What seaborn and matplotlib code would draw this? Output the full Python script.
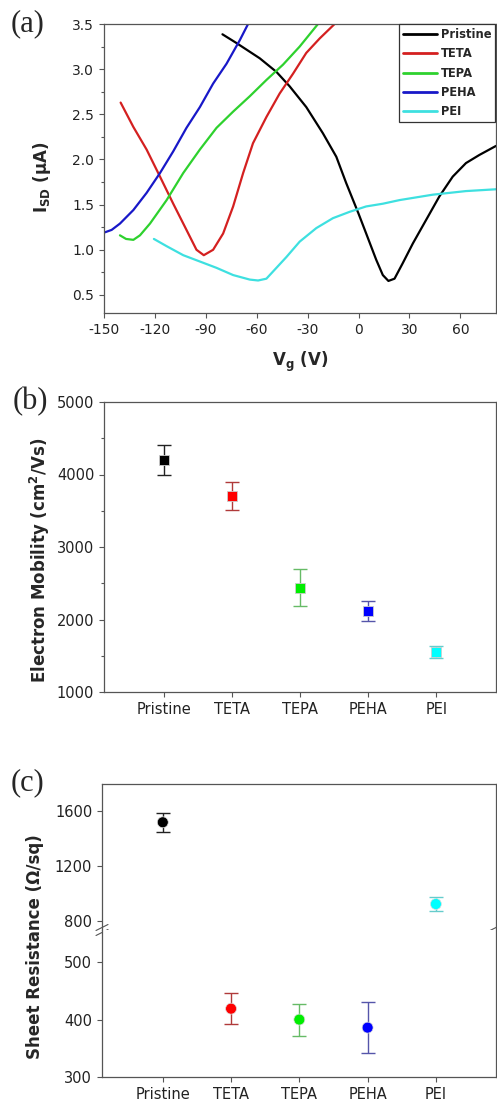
import numpy as np
import pandas as pd
import matplotlib
matplotlib.use("Agg")
import matplotlib.pyplot as plt
from matplotlib.ticker import MultipleLocator
import seaborn as sns

# ---------------- data ----------------
# (a) transfer curves  I_SD (uA) vs V_g (V)
pristine_vg = [-80.2, -72, -58.2, -48.4, -40.6, -30.8, -21, -13.1, -7.3, 0, 4.5, 10.4, 14.3, 17.6,
               21.2, 26, 32, 39.8, 47.6, 55.5, 63.3, 71.2, 81]
pristine_isd = [3.386, 3.29, 3.12, 2.97, 2.81, 2.58, 2.29, 2.03, 1.74, 1.40, 1.18, 0.89, 0.72, 0.655,
                0.68, 0.85, 1.07, 1.33, 1.59, 1.81, 1.96, 2.05, 2.15]
teta_vg = [-140.2, -132.7, -124.9, -117, -109.2, -101.4, -95.5, -91.2, -85.7, -79.8, -73.9, -68,
           -62.2, -54.3, -46.5, -38.6, -30.8, -22.9, -14.1]
teta_isd = [2.63, 2.36, 2.11, 1.81, 1.51, 1.22, 1.0, 0.94, 1.0, 1.18, 1.48, 1.85, 2.18, 2.47, 2.73,
            2.95, 3.18, 3.34, 3.5]
tepa_vg = [-140.6, -137, -132.7, -128.8, -122.9, -113.1, -103.3, -93.5, -83.7, -73.9, -64.1, -54.3,
           -44.5, -34.7, -23.9]
tepa_isd = [1.16, 1.12, 1.11, 1.16, 1.29, 1.55, 1.85, 2.11, 2.35, 2.53, 2.70, 2.88, 3.05, 3.25, 3.5]
peha_vg = [-150, -145.5, -140.6, -132.7, -124.9, -117, -109.2, -101.4, -93.5, -85.7, -77.8, -70, -65.1]
peha_isd = [1.19, 1.22, 1.29, 1.44, 1.63, 1.85, 2.09, 2.35, 2.58, 2.84, 3.06, 3.32, 3.5]
pei_vg = [-120.6, -113.1, -103.3, -93.5, -83.7, -73.9, -64.1, -59.2, -54.3, -48.4, -42.5, -34.7,
          -24.9, -15.1, -5.3, 4.5, 14.3, 24.1, 33.9, 43.7, 53.5, 63.3, 81]
pei_isd = [1.12, 1.04, 0.94, 0.87, 0.80, 0.72, 0.67, 0.66, 0.68, 0.80, 0.92, 1.09, 1.24, 1.35, 1.42,
           1.48, 1.51, 1.55, 1.58, 1.61, 1.63, 1.65, 1.67]

# (b), (c)
categories = ["Pristine", "TETA", "TEPA", "PEHA", "PEI"]
mobility = [4200, 3700, 2440, 2120, 1550]
mobility_err = [210, 195, 253, 135, 87]
resistance = [1520, 419, 400, 386, 922]
resistance_err = [68, 27, 28, 44, 50]

# ---------------- style ----------------
sns.set_style("ticks")
plt.rcParams["font.family"] = ["DejaVu Sans"]
plt.rcParams["axes.unicode_minus"] = False
plt.rcParams["mathtext.fontset"] = "custom"
plt.rcParams["mathtext.rm"] = "DejaVu Sans:bold"
plt.rcParams["mathtext.it"] = "DejaVu Sans:bold"
plt.rcParams["mathtext.bf"] = "DejaVu Sans:bold"

line_colors = ["#000000", "#d42020", "#2ed12e", "#1818c8", "#3ee0e0"]
marker_colors = ["#000000", "#ff0000", "#00ee00", "#0000ff", "#00ffff"]
err_colors = ["#222222", "#b03a3a", "#66bb66", "#5555aa", "#66cccc"]
spine_c = "#555555"
tick_c = "#222222"

W, H = 497, 1102
fig = plt.figure(figsize=(W / 100, H / 100), dpi=100)


def px_axes(left, top, right, bottom):
    return fig.add_axes([left / W, 1 - bottom / H, (right - left) / W, (bottom - top) / H])


def style_axes(ax, fs):
    for s in ax.spines.values():
        s.set_color(spine_c)
        s.set_linewidth(0.9)
    ax.tick_params(which="major", direction="out", length=3.5, width=0.8, color=spine_c,
                   labelsize=fs, labelcolor=tick_c, top=False, right=False)
    ax.tick_params(which="minor", direction="out", length=2.2, width=0.8, color=spine_c,
                   top=False, right=False)


# ---------------- (a) ----------------
ax_a = px_axes(104, 24, 496, 313)
curves = [("Pristine", pristine_vg, pristine_isd), ("TETA", teta_vg, teta_isd),
          ("TEPA", tepa_vg, tepa_isd), ("PEHA", peha_vg, peha_isd), ("PEI", pei_vg, pei_isd)]
df_a = pd.concat([pd.DataFrame({"Vg": v, "Isd": i, "sample": n}) for n, v, i in curves],
                 ignore_index=True)
sns.lineplot(data=df_a, x="Vg", y="Isd", hue="sample", palette=line_colors, sort=False,
             estimator=None, linewidth=1.6, ax=ax_a)
ax_a.set_xlim(-150, 81)
ax_a.set_ylim(0.3, 3.5)
ax_a.set_xticks([-150, -120, -90, -60, -30, 0, 30, 60])
ax_a.set_yticks([0.5, 1.0, 1.5, 2.0, 2.5, 3.0, 3.5])
ax_a.yaxis.set_minor_locator(MultipleLocator(0.25))
ax_a.set_xlabel("")
ax_a.set_ylabel("")
style_axes(ax_a, 10)
leg = ax_a.legend(loc="upper right", bbox_to_anchor=(0.998, 1.0), borderaxespad=0, frameon=True,
                  fancybox=False, edgecolor="#333333", framealpha=1,
                  prop={"family": "DejaVu Sans", "weight": "bold", "size": 8.3},
                  handlelength=3.0, handletextpad=0.3, labelspacing=0.55, borderpad=0.35)
leg.get_frame().set_linewidth(0.9)
for h in leg.get_lines():
    h.set_linewidth(2.0)

fig.text(300 / W, 1 - 362 / H, r"V$_\mathrm{g}$ (V)", ha="center", va="center",
         fontsize=12, fontweight="bold")
fig.text(42 / W, 1 - 177 / H, r"I$_\mathrm{SD}$ ($\mathrm{\mu}$A)", ha="center", va="center",
         rotation=90, fontsize=12, fontweight="bold")

# ---------------- (b) ----------------
x_pos = list(range(len(categories)))
ax_b = px_axes(104, 402, 496, 692)
for xi, v, e, c in zip(x_pos, mobility, mobility_err, err_colors):
    ax_b.errorbar(xi, v, yerr=e, fmt="none", ecolor=c, elinewidth=1.0, capsize=5, capthick=1.0,
                  zorder=2)
df_b = pd.DataFrame({"x": x_pos, "mob": mobility, "sample": categories})
sns.scatterplot(data=df_b, x="x", y="mob", hue="sample", palette=marker_colors, marker="s", s=52,
                edgecolor="#cccccc", linewidth=0.6, legend=False, zorder=3, ax=ax_b)
ax_b.set_xlim(-0.89, 4.88)
ax_b.set_ylim(1000, 5000)
ax_b.set_xticks(x_pos)
ax_b.set_xticklabels(categories)
ax_b.set_yticks([1000, 2000, 3000, 4000, 5000])
ax_b.yaxis.set_minor_locator(MultipleLocator(500))
ax_b.set_xlabel("")
ax_b.set_ylabel("")
style_axes(ax_b, 10.5)
fig.text(40 / W, 1 - 560 / H, r"Electron Mobility (cm$^\mathrm{2}$/Vs)", ha="center", va="center",
         rotation=90, fontsize=12, fontweight="bold")

# ---------------- (c) broken axis ----------------
ax_ct = px_axes(102, 784, 496, 930)
ax_cb = px_axes(102, 930, 496, 1077)
df_c = pd.DataFrame({"x": x_pos, "res": resistance, "sample": categories})
for ax in (ax_ct, ax_cb):
    for xi, v, e, c in zip(x_pos, resistance, resistance_err, err_colors):
        ax.errorbar(xi, v, yerr=e, fmt="none", ecolor=c, elinewidth=1.0, capsize=5, capthick=1.0,
                    zorder=2)
    sns.scatterplot(data=df_c, x="x", y="res", hue="sample", palette=marker_colors, marker="o",
                    s=62, edgecolor="#dddddd", linewidth=0.5, legend=False, zorder=3, ax=ax)
    ax.set_xlim(-0.89, 4.88)
    ax.set_xlabel("")
    ax.set_ylabel("")
    style_axes(ax, 10.5)
ax_ct.set_ylim(732, 1800)
ax_ct.set_yticks([800, 1200, 1600])
ax_cb.set_ylim(300, 556)
ax_cb.set_yticks([300, 400, 500])
ax_ct.spines["bottom"].set_visible(False)
ax_cb.spines["top"].set_visible(False)
ax_ct.tick_params(axis="x", bottom=False, labelbottom=False)
ax_cb.set_xticks(x_pos)
ax_cb.set_xticklabels(categories)

# break marks "//" (two parallel short slashes across the spine)
dx, dy = 6 / 394, 3 / 146
for xa in (0.0, 1.0):
    for y0 in (-2.5 / 146, 2.5 / 146):
        ax_ct.plot([xa - dx, xa + dx], [y0 - dy, y0 + dy], transform=ax_ct.transAxes,
                   color=spine_c, lw=0.8, clip_on=False, zorder=5)

fig.text(35 / W, 1 - 947 / H, "Sheet Resistance (Ω/sq)", ha="center", va="center",
         rotation=90, fontsize=12, fontweight="bold")

# panel labels
for lab, (px, py) in zip(["(a)", "(b)", "(c)"], [(28, 24), (30, 402), (28, 783)]):
    fig.text(px / W, 1 - py / H, lab, ha="center", va="center", fontsize=22,
             family="Liberation Serif")

fig.savefig("out.png", dpi=100)
